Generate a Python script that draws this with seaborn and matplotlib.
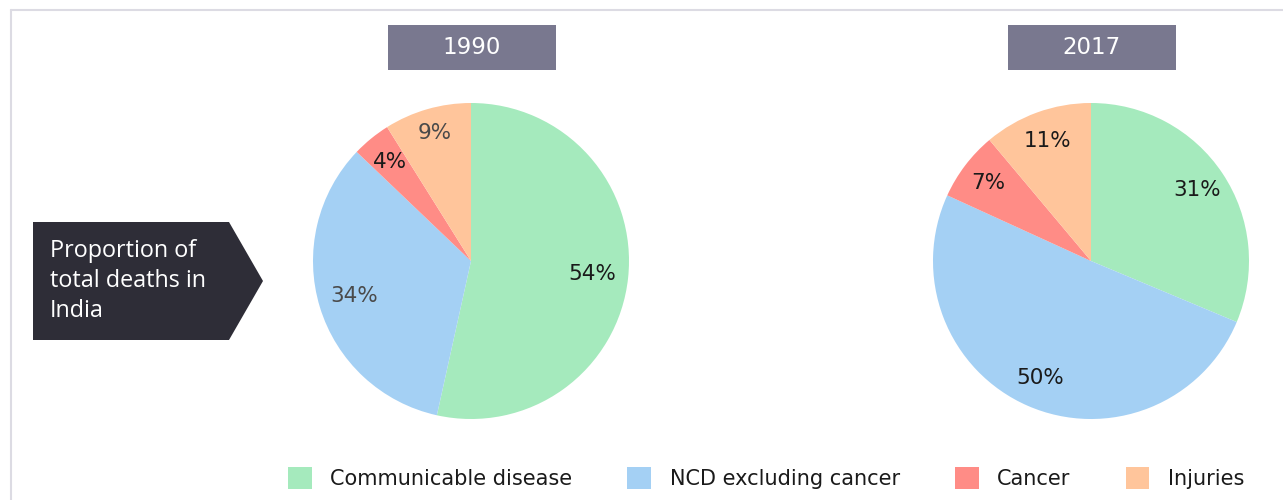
import matplotlib
matplotlib.use("Agg")
import matplotlib.pyplot as plt
import matplotlib.patches as mpatches
from matplotlib.lines import Line2D
import numpy as np
import seaborn as sns

# data
categories = ["Communicable disease", "NCD excluding cancer", "Cancer", "Injuries"]
years = ["1990", "2017"]
share_1990 = [54, 34, 4, 9]
share_2017 = [31, 50, 7, 11]
callout = "Proportion of\ntotal deaths in\nIndia"

colors = ["#a5eabd", "#a4d0f4", "#ff8c86", "#ffc59b"]
label_dist = {"1990": [0.77, 0.77, 0.81, 0.84], "2017": [0.81, 0.81, 0.82, 0.81]}
label_col = {"1990": ["#1a1a1a", "#4a4a4a", "#1a1a1a", "#4a4a4a"],
             "2017": ["#1a1a1a", "#1a1a1a", "#1a1a1a", "#1a1a1a"]}

sns.set_theme(style="white")
plt.rcParams['font.family'] = ['DejaVu Sans']

W, H = 1283, 500
fig = plt.figure(figsize=(W / 100, H / 100), dpi=100)
fig.patch.set_facecolor("white")

# light frame
fig.add_artist(Line2D([11 / W, 1], [1 - 10 / H, 1 - 10 / H], color="#dcdbe3", lw=1.5))
fig.add_artist(Line2D([11 / W, 11 / W], [0, 1 - 10 / H], color="#dcdbe3", lw=1.5))

R = 158
centers = {"1990": (471, 261), "2017": (1091, 261)}
data = {"1990": share_1990, "2017": share_2017}

for yr in years:
    cx, cy = centers[yr]
    ax = fig.add_axes([(cx - R) / W, (H - cy - R) / H, 2 * R / W, 2 * R / H])
    wedges, _ = ax.pie(data[yr], colors=colors, startangle=90, counterclock=False,
                       wedgeprops=dict(linewidth=0))
    ax.set_xlim(-1, 1)
    ax.set_ylim(-1, 1)
    ax.set_aspect("equal")
    ax.axis("off")
    for i, w in enumerate(wedges):
        mid = np.deg2rad((w.theta1 + w.theta2) / 2)
        d = label_dist[yr][i]
        ax.text(d * np.cos(mid), d * np.sin(mid), f"{data[yr][i]}%",
                ha="center", va="center", fontsize=15.5, color=label_col[yr][i])
    # year box
    bx0 = cx - 83
    fig.add_artist(mpatches.Rectangle((bx0 / W, 1 - 70 / H), 168 / W, 45 / H,
                                      transform=fig.transFigure, color="#79788f", lw=0))
    fig.text((bx0 + 84) / W, 1 - 47.5 / H, yr, ha="center", va="center",
             fontsize=16.5, color="white")

# callout arrow box
pts = [(33, 222), (229, 222), (263, 281), (229, 340), (33, 340)]
poly = mpatches.Polygon([(x / W, 1 - y / H) for x, y in pts], closed=True,
                        transform=fig.transFigure, color="#2e2d37", lw=0)
fig.add_artist(poly)
fig.text(50 / W, 1 - 281 / H, callout, ha="left", va="center", fontsize=16.8,
         color="white", linespacing=1.32, family=["Open Sans", "DejaVu Sans"])

# legend
handles = [mpatches.Patch(facecolor=c, edgecolor="none") for c in colors]
fig.legend(handles, categories, loc="center", ncol=4, frameon=False,
           bbox_to_anchor=(766 / W, 22 / H), fontsize=15, labelcolor="#1a1a1a",
           handlelength=1.15, handleheight=1.25, handletextpad=0.87,
           columnspacing=2.65)

fig.savefig("out.png", dpi=100)
